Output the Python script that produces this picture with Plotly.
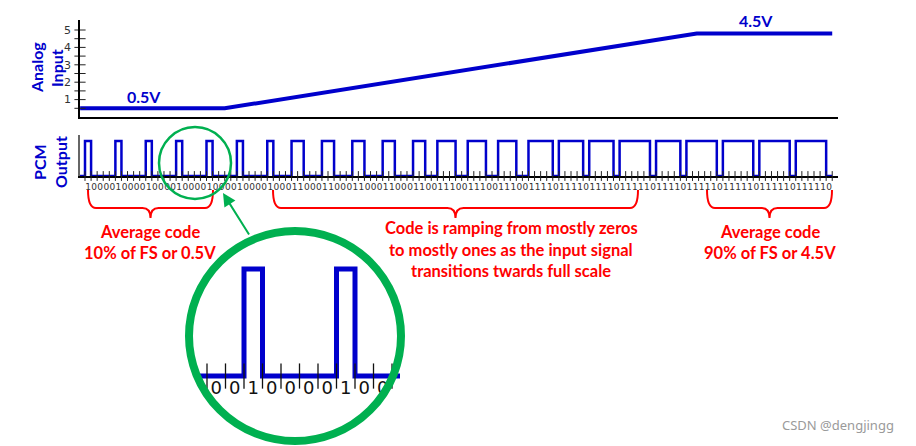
import plotly.graph_objects as go

W, H = 916, 446
OFF = 8   # page body margin that shifts the figure on screen

# ---------------- data ----------------
analog_t = [-0.8, 23.0, 100.7, 123.0]      # time, in bit periods
analog_v = [0.5, 0.5, 4.8, 4.8]            # volts (as drawn)
y_major = [1, 2, 3, 4, 5]
y_minor = [0.5, 1, 1.5, 2, 2.5, 3, 3.5, 4, 4.5, 5]
bits = ("10000" * 6 + "1000" + "11000" * 4 + "1100" + "11100" * 3 +
        "11110" * 3 + "111110" + "11110" + "111110" * 4)
bit_vals = [int(c) for c in bits]
zoom_first, zoom_last = 13, 23             # bits shown in the magnifier

# ---------------- helpers ----------------
def fx(px):
    return (px - OFF) / W

def fy(px):
    return 1 - (px - OFF) / H

BW = 6.075          # pixel width of one bit
X0 = 85             # pixel position of bit 0
xr = [(80 - X0) / BW, (838 - X0) / BW]

BLUE = "#0000CC"
RED = "#FF0000"
GREEN = "#00B050"

fig = go.Figure()

# analog input
fig.add_trace(go.Scatter(x=analog_t, y=analog_v, mode="lines",
                         line=dict(color=BLUE, width=4), xaxis="x", yaxis="y",
                         hoverinfo="skip"))
fig.add_trace(go.Scatter(x=[xr[0]] * len(y_minor), y=y_minor, mode="markers",
                         marker=dict(symbol="line-ew", size=8,
                                     line=dict(width=1, color="#222")),
                         cliponaxis=False, xaxis="x", yaxis="y", hoverinfo="skip"))

# PCM output
step_x = [xr[0]] + list(range(len(bits) + 1))
step_y = [0] + bit_vals + [bit_vals[-1]]
fig.add_trace(go.Scatter(x=step_x, y=step_y, mode="lines", line_shape="hv",
                         line=dict(color=BLUE, width=2.5), xaxis="x2", yaxis="y2",
                         hoverinfo="skip"))
fig.add_trace(go.Scatter(x=list(range(len(bits) + 1)), y=[0] * (len(bits) + 1),
                         mode="markers",
                         marker=dict(symbol="line-ns", size=7,
                                     line=dict(width=1, color="#222")),
                         cliponaxis=False, xaxis="x2", yaxis="y2", hoverinfo="skip"))

# magnified view
fig.add_trace(go.Scatter(x=step_x, y=step_y, mode="lines", line_shape="hv",
                         line=dict(color=BLUE, width=5), xaxis="x3", yaxis="y3",
                         hoverinfo="skip"))
zt = list(range(zoom_first, zoom_last + 1))
fig.add_trace(go.Scatter(x=zt, y=[0] * len(zt), mode="markers",
                         marker=dict(symbol="line-ns", size=18,
                                     line=dict(width=1.3, color="#111")),
                         cliponaxis=False, xaxis="x3", yaxis="y3", hoverinfo="skip"))
zl = list(range(zoom_first, zoom_last))
fig.add_trace(go.Scatter(x=[i + 0.5 for i in zl], y=[-0.13] * len(zl), mode="text",
                         text=[bits[i] for i in zl],
                         textfont=dict(family="DejaVu Sans", size=18, color="#111"),
                         cliponaxis=False, xaxis="x3", yaxis="y3", hoverinfo="skip"))

# ---------------- decorations (pixel overlay axis x4/y4) ----------------
def brace(x1, x2, xm, yt=190, yb=208, ytip=218, r=8):
    return (f"M{x1},{yt} Q{x1},{yb} {x1 + r},{yb} L{xm - r},{yb} "
            f"Q{xm},{yb} {xm},{ytip} Q{xm},{yb} {xm + r},{yb} "
            f"L{x2 - r},{yb} Q{x2},{yb} {x2},{yt}")

shapes = []
for (a, b, m) in [(88, 213, 150.5), (273, 638, 455.5), (707, 832, 769.5)]:
    shapes.append(dict(type="path", path=brace(a, b, m), xref="x4", yref="y4",
                       line=dict(color=RED, width=2)))
shapes.append(dict(type="circle", xref="x4", yref="y4", x0=159, x1=231, y0=127, y1=199,
                   line=dict(color=GREEN, width=2.5)))
shapes.append(dict(type="circle", xref="x4", yref="y4", x0=189, x1=401, y0=231, y1=441,
                   layer="below", line=dict(color=GREEN, width=8)))

ann = []
def txt(x, y, s, color, size, angle=0, family="Lato", bold=True):
    ann.append(dict(x=x, y=y, xref="x4", yref="y4", text=s, showarrow=False,
                    textangle=angle, xanchor="center", yanchor="middle",
                    font=dict(family=family, size=size, color=color,
                              weight="bold" if bold else "normal")))

txt(36, 68, "Analog", BLUE, 16, -90)
txt(56, 68, "Input", BLUE, 16, -90)
txt(39, 162, "PCM", BLUE, 16, -90)
txt(60, 162, "Output", BLUE, 16, -90)
txt(144, 96, "0.5V", BLUE, 16)
txt(756, 20, "4.5V", BLUE, 16)
RS = 16.5
txt(150, 232, "Average code", RED, RS)
txt(150, 253, "10% of FS or 0.5V", RED, RS)
txt(511, 228, "Code is ramping from mostly zeros", RED, RS)
txt(511, 250, "to mostly ones as the input signal", RED, RS)
txt(511, 271, "transitions twards full scale", RED, RS)
txt(770, 232, "Average code", RED, RS)
txt(770, 253, "90% of FS or 4.5V", RED, RS)
txt(838, 425, "CSDN @dengjingg", "#9a9a9a", 13, family="Noto Sans", bold=False)
ann.append(dict(x=223, y=193, ax=250, ay=236, xref="x4", yref="y4", axref="x4",
                ayref="y4", text="", showarrow=True, arrowhead=2, arrowsize=1.3,
                arrowwidth=2, arrowcolor=GREEN))

noax = dict(visible=False, showgrid=False, zeroline=False)
fig.update_layout(
    width=W, height=H, template="none",
    margin=dict(l=0, r=0, t=0, b=0),
    paper_bgcolor="white", plot_bgcolor="rgba(0,0,0,0)", showlegend=False,
    xaxis=dict(domain=[fx(80), fx(838)], range=xr, anchor="y", showline=True,
               linecolor="black", linewidth=1.5, showgrid=False, zeroline=False,
               showticklabels=False, ticks="", automargin=False),
    yaxis=dict(domain=[fy(117), fy(20)], range=[0, 97 / 17.4], anchor="x",
               showline=True, linecolor="black", linewidth=1.5, showgrid=False,
               zeroline=False, tickvals=y_major, ticks="", ticklabelstandoff=5,
               tickfont=dict(family="DejaVu Sans", size=11, color="#333"),
               automargin=False),
    xaxis2=dict(domain=[fx(80), fx(838)], range=xr, anchor="y2", showline=True,
                linecolor="black", linewidth=1.5, showgrid=False, zeroline=False,
                tickvals=[i + 0.5 for i in range(len(bits))], ticktext=list(bits),
                tickangle=0, ticks="", ticklabelstandoff=1,
                tickfont=dict(family="DejaVu Sans", size=9, color="#333"),
                layer="below traces", automargin=False),
    yaxis2=dict(domain=[fy(176), fy(135)], range=[0, 41 / 35], anchor="x2",
                showline=True, linecolor="#666", linewidth=1.5, showgrid=False,
                zeroline=False, showticklabels=False, ticks="", automargin=False),
    xaxis3=dict(domain=[fx(200), fx(400)],
                range=[zoom_first - 7 / 18.5, zoom_first + 193 / 18.5],
                anchor="y3", **noax),
    yaxis3=dict(domain=[fy(400), fy(255)], range=[-0.224, 1.131], anchor="x3", **noax),
    xaxis4=dict(domain=[0, 1], range=[OFF, W + OFF], anchor="y4", **noax),
    yaxis4=dict(domain=[0, 1], range=[H + OFF, OFF], anchor="x4", **noax),
    shapes=shapes, annotations=ann,
)

fig.write_html("out.html")
